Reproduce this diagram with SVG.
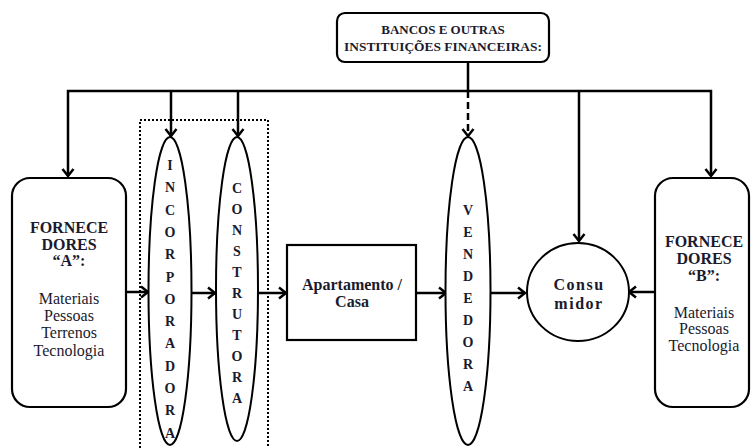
<svg xmlns="http://www.w3.org/2000/svg" width="755" height="448" viewBox="0 0 755 448">
<style>
.box{fill:#fff;stroke:#000;stroke-width:2.2}
.ell{fill:#fff;stroke:#000;stroke-width:2}
.ln{fill:none;stroke:#000;stroke-width:2.5}
.t{font-family:"Liberation Serif","Times New Roman",serif;font-size:16px;fill:#1a1a2e;text-anchor:middle}
.s{font-size:13px}
.l{font-size:14px}
.b{font-weight:bold}
</style>
<defs>
<marker id="ah" markerUnits="userSpaceOnUse" markerWidth="14" markerHeight="14" refX="9" refY="7" orient="auto-start-reverse">
<path d="M2,1.5 L9,7 L2,12.5" fill="none" stroke="#000" stroke-width="2.5"/>
</marker>
</defs>
<g id="connectors">
<path class="ln" d="M468,62 V91" stroke-width="4"/>
<path class="ln" d="M68,176 V91 H711 V176" marker-start="url(#ah)" marker-end="url(#ah)"/>
<path class="ln" d="M171,91 V136" marker-end="url(#ah)"/>
<path class="ln" d="M238,91 V136" marker-end="url(#ah)"/>
<path class="ln" d="M468,91 V136" stroke-dasharray="7,4" marker-end="url(#ah)"/>
<path class="ln" d="M579,91 V241" marker-end="url(#ah)"/>
<path class="ln" d="M126,292 H148" marker-end="url(#ah)"/>
<path class="ln" d="M192,293 H215" marker-end="url(#ah)"/>
<path class="ln" d="M259,293 H286" marker-end="url(#ah)"/>
<path class="ln" d="M416,293 H446" marker-end="url(#ah)"/>
<path class="ln" d="M490,293 H525" marker-end="url(#ah)"/>
<path class="ln" d="M655,292 H629" marker-end="url(#ah)"/>
</g>
<g id="grupo">
<rect x="140" y="120" width="128" height="340" fill="none" stroke="#000" stroke-width="2" stroke-dasharray="2,2"/>
</g>
<g id="bancos">
<rect class="box" x="337" y="13" width="212" height="49" rx="8"/>
<text class="t b s" x="443" y="34">BANCOS E OUTRAS</text>
<text class="t b s" x="443" y="51" textLength="198" lengthAdjust="spacingAndGlyphs">INSTITUIÇÕES FINANCEIRAS:</text>
</g>
<g id="fornecedoresA">
<rect class="box" x="12" y="178" width="114" height="229" rx="18"/>
<text class="t b" x="69" y="233">FORNECE</text>
<text class="t b" x="69" y="250">DORES</text>
<text class="t b" x="69" y="266">“A”:</text>
<text class="t" x="69" y="304">Materiais</text>
<text class="t" x="69" y="321">Pessoas</text>
<text class="t" x="69" y="338">Terrenos</text>
<text class="t" x="69" y="356">Tecnologia</text>
</g>
<g id="incorporadora">
<ellipse class="ell" cx="170" cy="291" rx="21.5" ry="154"/>
<text class="t b l" x="170" y="170">I<tspan x="170" dy="22.3">N</tspan><tspan x="170" dy="22.3">C</tspan><tspan x="170" dy="22.3">O</tspan><tspan x="170" dy="22.3">R</tspan><tspan x="170" dy="22.3">P</tspan><tspan x="170" dy="22.3">O</tspan><tspan x="170" dy="22.3">R</tspan><tspan x="170" dy="22.3">A</tspan><tspan x="170" dy="22.3">D</tspan><tspan x="170" dy="22.3">O</tspan><tspan x="170" dy="22.3">R</tspan><tspan x="170" dy="22.3">A</tspan></text>
</g>
<g id="construtora">
<ellipse class="ell" cx="237" cy="289" rx="21" ry="152"/>
<text class="t b l" x="237" y="193">C<tspan x="237" dy="21">O</tspan><tspan x="237" dy="21">N</tspan><tspan x="237" dy="21">S</tspan><tspan x="237" dy="21">T</tspan><tspan x="237" dy="21">R</tspan><tspan x="237" dy="21">U</tspan><tspan x="237" dy="21">T</tspan><tspan x="237" dy="21">O</tspan><tspan x="237" dy="21">R</tspan><tspan x="237" dy="21">A</tspan></text>
</g>
<g id="apartamento">
<rect class="box" x="287" y="245" width="129" height="95"/>
<text class="t b" x="352" y="290">Apartamento /</text>
<text class="t b" x="352" y="307">Casa</text>
</g>
<g id="vendedora">
<ellipse class="ell" cx="468" cy="291" rx="22.5" ry="154"/>
<text class="t b l" x="468" y="215">V<tspan x="468" dy="22">E</tspan><tspan x="468" dy="22">N</tspan><tspan x="468" dy="22">D</tspan><tspan x="468" dy="22">E</tspan><tspan x="468" dy="22">D</tspan><tspan x="468" dy="22">O</tspan><tspan x="468" dy="22">R</tspan><tspan x="468" dy="22">A</tspan></text>
</g>
<g id="consumidor">
<ellipse class="ell" cx="578" cy="292" rx="51" ry="49"/>
<text class="t b" x="579" y="290" letter-spacing="1.5">Consu</text>
<text class="t b" x="579" y="309" letter-spacing="1.5">midor</text>
</g>
<g id="fornecedoresB">
<rect class="box" x="655" y="178" width="94" height="229" rx="18"/>
<text class="t b" x="704" y="247">FORNECE</text>
<text class="t b" x="704" y="264">DORES</text>
<text class="t b" x="704" y="281">“B”:</text>
<text class="t" x="704" y="318">Materiais</text>
<text class="t" x="704" y="334">Pessoas</text>
<text class="t" x="704" y="351">Tecnologia</text>
</g>
</svg>
